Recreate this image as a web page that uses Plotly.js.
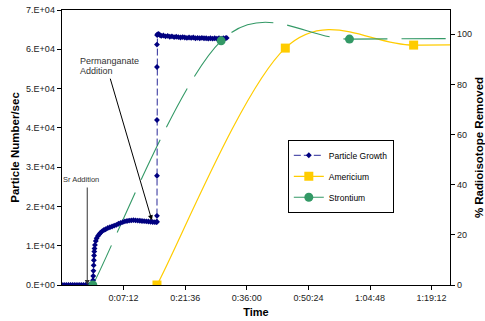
<!DOCTYPE html>
<html>
<head>
<meta charset="utf-8">
<script src="https://cdn.plot.ly/plotly-3.0.1.min.js"></script>
<style>html,body{margin:0;padding:0;background:#fff;}#chart{width:485px;height:321px;}</style>
</head>
<body>
<div id="chart"></div>
<script>
// Time in minutes (0 = Sr addition)
var particleTime = [-7.2,-6.7,-6.2,-5.7,-5.2,-4.7,-4.2,-3.7,-3.2,-2.7,-2.2,-1.7,-1.2,-0.7,-0.3,
  0,0.05,0.1,0.15,0.2,0.25,0.3,0.35,0.4,0.5,0.7,0.9,1.2,1.5,1.8,2.2,2.6,3.0,3.5,4.0,4.5,5.0,5.5,6.0,6.5,7.0,7.5,8.0,8.5,9.0,9.5,10.0,10.5,11.0,11.5,12.0,12.5,13.0,13.5,14.0,14.5,14.9,
  15.0,15.0,15.0,15.0,15.0,15.0,15.05,
  15.1,15.4,15.7,16.0,16.5,17.0,17.5,18.0,18.5,19.0,19.5,20.0,20.5,21.0,21.5,22.0,22.5,23.0,23.5,24.0,24.5,25.0,25.5,26.0,26.5,27.0,27.5,28.0,28.5,29.0,29.5,30.0,30.5,31.0,31.3];
var particleCount = [0,0,0,0,0,0,0,0,0,0,0,0,0,0,0,
  0,1200,2300,3600,5000,6300,7500,8500,9300,10200,11200,11900,12500,12900,13300,13700,14000,14200,14500,14700,14900,15100,15300,15600,15800,16000,16200,16300,16400,16450,16500,16450,16400,16350,16300,16250,16200,16150,16100,16050,16000,16000,
  16100,17600,27800,42000,55500,61200,63600,
  63800,63900,63600,63400,63500,63300,63400,63200,63300,63100,63200,63100,63000,63100,63000,62900,63000,62900,63000,62800,62900,62800,62900,62800,62800,62700,62800,62700,62800,62700,62800,62700,62800,62800,62900];
var strontiumTime = [0, 30, 60, 90];
var strontiumPct = [0, 97.4, 98.1, 98.3];
var americiumTime = [15, 45, 75, 105];
var americiumPct = [0, 94.5, 95.7, 95.8];
var timeTickVals = [7.2, 21.6, 36.0, 50.4, 64.8, 79.2];
var timeTickText = ['0:07:12','0:21:36','0:36:00','0:50:24','1:04:48','1:19:12'];
var countTickVals = [0,10000,20000,30000,40000,50000,60000,70000];
var countTickText = ['0.E+00','1.E+04','2.E+04','3.E+04','4.E+04','5.E+04','6.E+04','7.E+04'];
var pctTickVals = [0,20,40,60,80,100];

// Smoothed line in the style of a spreadsheet "smoothed line" (Catmull-Rom Bezier),
// expressed in data coordinates so the axes map it.
function smoothPath(xs, ys) {
  var n = xs.length, d = 'M' + xs[0] + ',' + ys[0];
  for (var i = 0; i < n - 1; i++) {
    var p = Math.max(i - 1, 0), q = Math.min(i + 2, n - 1);
    var c1x = xs[i] + (xs[i + 1] - xs[p]) / 6, c1y = ys[i] + (ys[i + 1] - ys[p]) / 6;
    var c2x = xs[i + 1] - (xs[q] - xs[i]) / 6, c2y = ys[i + 1] - (ys[q] - ys[i]) / 6;
    d += ' C' + c1x + ',' + c1y + ' ' + c2x + ',' + c2y + ' ' + xs[i + 1] + ',' + ys[i + 1];
  }
  return d;
}

var FONT = 'Liberation Sans, Arial, sans-serif';
var X_RANGE = [-7.2, 83.5], Y_RANGE = [0, 70000], Y2_RANGE = [0, 109.7];
var AM_COLOR = '#FFCC00', SR_COLOR = '#339966';
var AM_LINE = {color: AM_COLOR, width: 1.2};
var SR_LINE = {color: SR_COLOR, width: 1.1, dash: '44px,14px'};
var traces = [
  {x: particleTime, y: particleCount, name: 'Particle Growth', type: 'scatter', mode: 'lines+markers',
   line: {color: '#2a2a99', width: 1, dash: '7px,3px'},
   marker: {symbol: 'diamond', size: 4.5, color: '#000080'}, legendgroup: 'a'},
  {x: americiumTime, y: americiumPct, yaxis: 'y2', type: 'scatter', mode: 'markers', showlegend: false,
   marker: {symbol: 'square', size: 9, color: AM_COLOR}, legendgroup: 'b'},
  {x: [null], y: [null], name: 'Americium', yaxis: 'y2', type: 'scatter', mode: 'lines+markers',
   line: AM_LINE, marker: {symbol: 'square', size: 9, color: AM_COLOR}, legendgroup: 'b'},
  {x: strontiumTime, y: strontiumPct, yaxis: 'y2', type: 'scatter', mode: 'markers', showlegend: false,
   marker: {symbol: 'circle', size: 9, color: SR_COLOR}, legendgroup: 'c'},
  {x: [null], y: [null], name: 'Strontium', yaxis: 'y2', type: 'scatter', mode: 'lines+markers',
   line: {color: SR_COLOR, width: 1.1}, marker: {symbol: 'circle', size: 9, color: SR_COLOR}, legendgroup: 'c'}
];
var axisBase = {showgrid: false, zeroline: false, tickcolor: '#000', ticklen: 4};
var layout = {
  width: 485, height: 321,
  margin: {l: 62, r: 35, t: 10, b: 36},
  paper_bgcolor: '#fff', plot_bgcolor: '#fff',
  font: {family: FONT, size: 9, color: '#000'},
  showlegend: true,
  legend: {x: 0.582, y: 0.528, xanchor: 'left', yanchor: 'top', bgcolor: '#fff',
    bordercolor: '#000', borderwidth: 1, font: {size: 8.5, family: FONT}, tracegroupgap: 2, traceorder: 'grouped'},
  xaxis: Object.assign({}, axisBase, {range: X_RANGE, tickvals: timeTickVals, ticktext: timeTickText, ticks: 'outside',
    showline: true, linecolor: '#000', linewidth: 1.3, mirror: true,
    tickfont: {size: 9, color: '#222'},
    title: {text: '<b>Time</b>', font: {size: 11}, standoff: 6}}),
  xaxis2: Object.assign({}, axisBase, {range: X_RANGE, tickvals: timeTickVals, ticks: 'inside', ticklen: 3,
    overlaying: 'x', anchor: 'y', side: 'bottom', showticklabels: false, showline: false}),
  yaxis: Object.assign({}, axisBase, {range: Y_RANGE, tickvals: countTickVals, ticktext: countTickText, ticks: 'outside',
    showline: true, linecolor: '#000', linewidth: 1.3,
    tickfont: {size: 9, color: '#222'},
    title: {text: '<b>Particle Number/sec</b>', font: {size: 11.5}, standoff: 4}}),
  yaxis3: Object.assign({}, axisBase, {range: Y_RANGE, tickvals: countTickVals, ticks: 'inside', ticklen: 3,
    overlaying: 'y', anchor: 'x', side: 'left', showticklabels: false, showline: false}),
  yaxis2: Object.assign({}, axisBase, {range: Y2_RANGE, overlaying: 'y', side: 'right', anchor: 'x', tickvals: pctTickVals, ticks: 'outside',
    showline: true, linecolor: '#000', linewidth: 1.3,
    tickfont: {size: 9, color: '#222'},
    title: {text: '<b>% Radioisotope Removed</b>', font: {size: 11.5}, standoff: 6}}),
  yaxis4: Object.assign({}, axisBase, {range: Y2_RANGE, tickvals: pctTickVals, ticks: 'inside', ticklen: 3,
    overlaying: 'y', anchor: 'x', side: 'right', showticklabels: false, showline: false}),
  shapes: [
    {type: 'path', xref: 'x', yref: 'y2', layer: 'below', path: smoothPath(americiumTime, americiumPct), line: AM_LINE},
    {type: 'path', xref: 'x', yref: 'y2', layer: 'below', path: smoothPath(strontiumTime, strontiumPct), line: SR_LINE}
  ],
  annotations: [
    {xref: 'paper', yref: 'paper', x: 0.049, y: 0.384, xanchor: 'center', yanchor: 'middle', text: 'Sr Addition', showarrow: false,
     font: {size: 7.5, color: '#333'}},
    {xref: 'x', yref: 'y', x: -1.3, y: 0, text: '', showarrow: true, ax: 0, ay: -99,
     arrowhead: 2, arrowsize: 1, arrowwidth: 1, arrowcolor: '#333'},
    {xref: 'paper', yref: 'paper', x: 0.041, y: 0.815, xanchor: 'left', yanchor: 'middle', text: 'Permanganate', showarrow: false,
     font: {size: 9, color: '#333'}},
    {xref: 'paper', yref: 'paper', x: 0.041, y: 0.778, xanchor: 'left', yanchor: 'middle', text: 'Addition', showarrow: false,
     font: {size: 9, color: '#333'}},
    {xref: 'x', yref: 'y', x: 13.8, y: 16500, text: '', showarrow: true, ax: -42, ay: -143,
     arrowhead: 2, arrowsize: 1, arrowwidth: 1, arrowcolor: '#000'}
  ]
};
Plotly.newPlot('chart', traces, layout, {displayModeBar: false, staticPlot: true});
</script>
</body>
</html>
